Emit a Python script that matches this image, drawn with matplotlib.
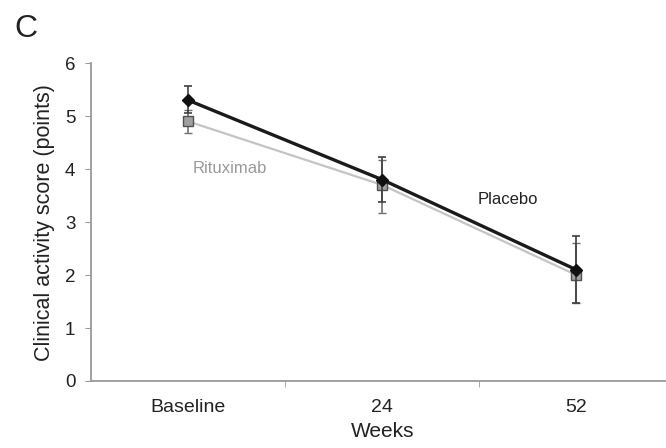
import matplotlib.pyplot as plt
import numpy as np

weeks = ["Baseline", "24", "52"]
placebo = [5.30, 3.80, 2.10]
placebo_lo = [5.05, 3.38, 1.47]
placebo_hi = [5.57, 4.23, 2.74]
ritux = [4.90, 3.70, 2.00]
ritux_lo = [4.68, 3.17, 1.47]
ritux_hi = [5.12, 4.18, 2.60]

plt.rcParams["font.family"] = ["Liberation Sans", "DejaVu Sans"]

fig = plt.figure(figsize=(6.66, 4.48), dpi=100)
ax = fig.add_axes([0.137, 0.1496, 0.874, 0.7094])

x = np.arange(len(weeks))

# Rituximab (grey line, open squares)
ax.errorbar(x, ritux,
            yerr=[np.subtract(ritux, ritux_lo), np.subtract(ritux_hi, ritux)],
            color="#c4c4c4", lw=1.6, ecolor="#707070", elinewidth=1.2,
            capsize=3, capthick=1.2, marker="s", ms=7,
            mfc="#a0a0a0", mec="#505050", mew=1.0, zorder=2)

# Placebo (black line, filled diamonds)
ax.errorbar(x, placebo,
            yerr=[np.subtract(placebo, placebo_lo), np.subtract(placebo_hi, placebo)],
            color="#1a1a1a", lw=2.4, ecolor="#404040", elinewidth=1.2,
            capsize=3, capthick=1.2, marker="D", ms=6,
            mfc="#111111", mec="#111111", zorder=3)

ax.text(0.025, 4.02, "Rituximab", color="#9a9a9a", fontsize=12, va="center", ha="left")
ax.text(1.49, 3.42, "Placebo", color="#222222", fontsize=12, va="center", ha="left")

ax.set_xlim(-0.5, 2.5)
ax.set_ylim(0, 6)
ax.set_yticks(range(0, 7))
ax.set_xticks(x)
ax.set_xticklabels(weeks)
ax.set_xticks([0.5, 1.5], minor=True)
ax.tick_params(axis="x", which="major", length=0, pad=13, labelsize=14, colors="#222222")
ax.tick_params(axis="x", which="minor", length=4, direction="out", color="#999999")
ax.tick_params(axis="y", length=4.5, direction="out", color="#999999", labelsize=13.5,
               labelcolor="#222222", pad=7)

for s in ["top", "right"]:
    ax.spines[s].set_visible(False)
for s in ["left", "bottom"]:
    ax.spines[s].set_color("#999999")
    ax.spines[s].set_linewidth(1.3)

ax.set_xlabel("Weeks", fontsize=15, color="#222222", labelpad=4)
ax.set_ylabel("Clinical activity score (points)", fontsize=15.5, color="#222222", labelpad=7)

fig.text(0.022, 0.935, "C", fontsize=23, color="#222222", va="center", ha="left")

fig.savefig("out.png", dpi=100)
